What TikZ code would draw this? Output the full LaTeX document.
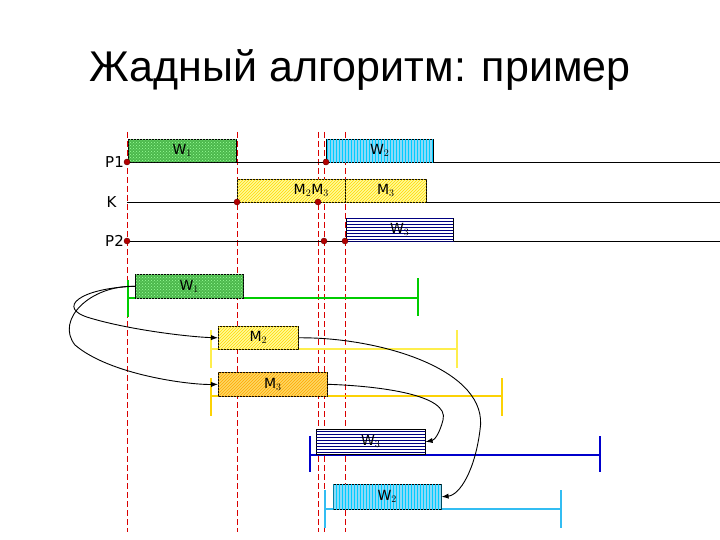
\documentclass[tikz,border=0pt]{standalone}
\usepackage{fontspec}
\setmainfont{Liberation Sans}
\newfontfamily\vfont{DejaVu Sans}
\usetikzlibrary{patterns,arrows.meta}
\begin{document}
\begin{tikzpicture}[x=1pt,y=-1pt,
  bx/.style={draw=black,line width=0.6pt,inner sep=0pt,anchor=north west,font=\vfont\fontsize{14}{14}\selectfont},
  wone/.style={bx,fill=green!60!black!70,postaction={pattern=crosshatch dots,pattern color=green!40}},
  wtwo/.style={bx,fill=cyan!45,postaction={pattern=vertical lines,pattern color=cyan!80!blue}},
  mm/.style={bx,fill=yellow!40,postaction={pattern=north east lines,pattern color=yellow!70!orange}},
  mmd/.style={bx,fill=yellow!55!orange!60,postaction={pattern=north east lines,pattern color=orange!70!yellow}},
  wthree/.style={bx,fill=white,postaction={pattern=horizontal lines,pattern color=blue!50!black}},
  vl/.style={red!85!black,dash pattern=on 6pt off 3pt,line width=0.9pt},
  dot/.style={circle,fill=red!70!black,draw=red!40!black,inner sep=0pt,minimum size=6pt},
  lane/.style={line width=0.7pt},
  lbl/.style={font=\vfont\fontsize{15}{15}\selectfont},
  arr/.style={-{Latex[length=7pt]},line width=0.9pt},
  bar/.style={line width=2pt}]
\useasboundingbox (0,0) rectangle (720,540);
\node[font=\fontsize{43}{45}\selectfont] (title) at (360,70) {Жадный алгоритм: пример};
% dashed verticals
\foreach \x/\n in {127/a,237/b,318/c,324/d,345/e}{\draw[vl] (\x,132) coordinate (t\n) -- (\x,532) coordinate (b\n);}
% lanes
\coordinate (p1s) at (127,162); \coordinate (p1e) at (720,162);
\coordinate (ks) at (127,202); \coordinate (ke) at (720,202);
\coordinate (p2s) at (127,241); \coordinate (p2e) at (720,241);
\draw[lane] (p1s)--(p1e); \draw[lane] (ks)--(ke); \draw[lane] (p2s)--(p2e);
\node[lbl,anchor=east,inner sep=1pt] (lp1) at (125,162) {P1};
\node[lbl,anchor=east] (lk) at (120,202) {K};
\node[lbl,anchor=east,inner sep=1pt] (lp2) at (125,241) {P2};
% top boxes
\node[wone,minimum width=108pt,minimum height=23pt] (tw1) at (128,139) {W$_1$};
\node[wtwo,minimum width=107pt,minimum height=23pt] (tw2) at (326,139) {W$_2$};
\node[mm,minimum width=108pt,minimum height=23pt] (tm23) at (237,179) {\hspace*{40pt}M$_2$M$_3$};
\node[mm,minimum width=81pt,minimum height=23pt] (tm3) at (345,179) {M$_3$};
\node[wthree,minimum width=107pt,minimum height=23pt] (tw3) at (346,218) {W$_3$};
\draw[line width=1.5pt,blue!40!black] (tw3.south west)--(tw3.south east);
% dots
\foreach \p/\n in {{127,162}/d1,{326,162}/d2,{237,202}/d3,{318,202}/d4,{127,241}/d5,{324,241}/d6,{345,241}/d7}{\node[dot] (\n) at (\p) {};}
% bottom bars
\draw[bar,green!80!black] (128,280)--(128,317) (418,278)--(418,316) (128,298)--(418,298);
\draw[bar,yellow!90!orange!70] (211,330)--(211,368) (457,330)--(457,368) (211,349)--(457,349);
\draw[bar,yellow!70!orange] (211,378)--(211,416) (502,378)--(502,416) (211,396)--(502,396);
\draw[bar,blue!80!black] (310,436)--(310,472) (600,436)--(600,472) (310,455)--(600,455);
\draw[bar,cyan!80] (325,490)--(325,528) (561,490)--(561,528) (325,509)--(561,509);
% bottom boxes
\node[wone,minimum width=108pt,minimum height=24pt] (bw1) at (135,274) {W$_1$};
\node[mm,minimum width=80pt,minimum height=23pt] (bm2) at (218,326) {M$_2$};
\node[mmd,minimum width=109pt,minimum height=24pt] (bm3) at (218,372) {M$_3$};
\node[wthree,minimum width=109pt,minimum height=25pt] (bw3) at (316,429) {W$_3$};
\node[wtwo,minimum width=108pt,minimum height=25pt] (bw2) at (333,484) {W$_2$};
% arrows
\draw[arr] (bw1.west) .. controls (80,288) and (55,308) .. (90,318) .. controls (130,330) and (190,337) .. (bm2.west);
\draw[arr] (bw1.west) .. controls (90,285) and (55,320) .. (75,345) .. controls (110,375) and (190,385) .. (bm3.west);
\draw[arr] (bm2.east) .. controls (380,337) and (490,370) .. (480,430) .. controls (475,470) and (460,495) .. (bw2.east);
\draw[arr] (bm3.east) .. controls (380,386) and (450,395) .. (443,420) .. controls (440,432) and (435,440) .. (bw3.east);
\end{tikzpicture}
\end{document}
